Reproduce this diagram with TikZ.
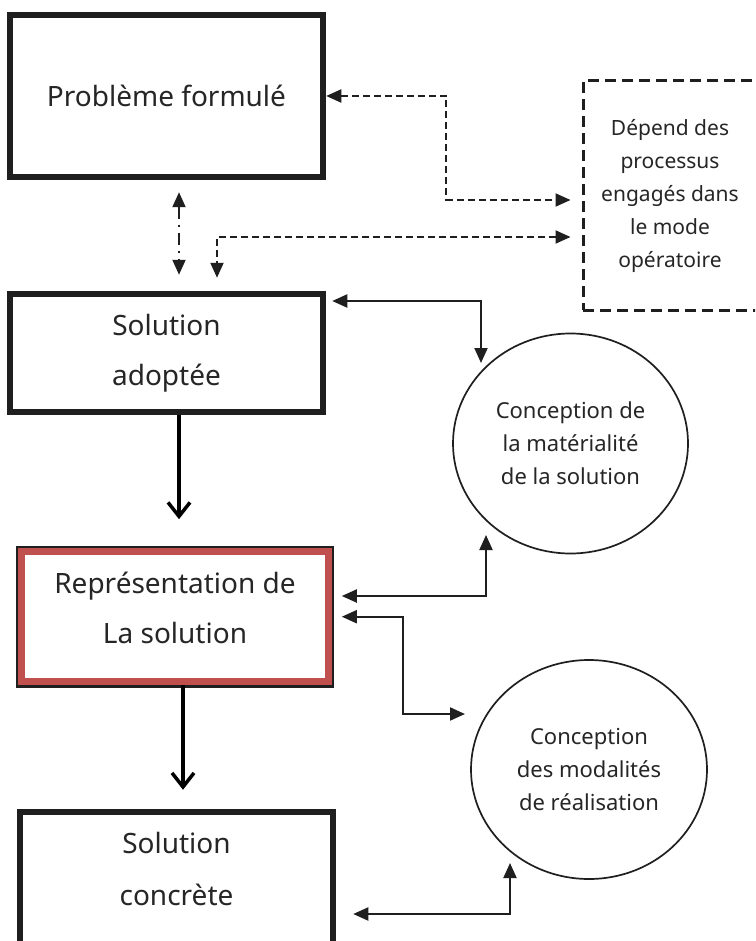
\documentclass[tikz,border=0pt]{standalone}
\usepackage{fontspec}
\setmainfont{Noto Sans}
\usetikzlibrary{arrows.meta,shapes.geometric,calc}
\definecolor{ink}{HTML}{1F1F1F}
\definecolor{txt}{HTML}{262626}
\definecolor{redbox}{HTML}{C0504D}
\begin{document}
\begin{tikzpicture}[x=1pt,y=-1pt,
  every node/.style={text=txt},
  >={Triangle[length=15pt,width=13pt]},
  bigbox/.style={rectangle, draw=ink, line width=6.5pt, fill=white, inner sep=0pt, align=center, font=\fontsize{28}{50}\selectfont},
  redb/.style={rectangle, draw=redbox, line width=7pt, fill=white, preaction={draw=ink, line width=12pt}, inner sep=0pt},
  bigtext/.style={align=center, inner sep=0pt, font=\fontsize{28}{50}\selectfont},
  ell/.style={ellipse, draw=ink, line width=1.7pt, fill=white, inner sep=0pt, align=center, font=\fontsize{22}{33}\selectfont},
  dbox/.style={rectangle, draw=ink, line width=3pt, dash pattern=on 11pt off 6pt, inner sep=0pt, align=center, font=\fontsize{21}{33}\selectfont},
  conn/.style={draw=ink, line width=2pt, <->},
  dconn/.style={draw=ink, line width=2pt, dash pattern=on 7pt off 4pt, <->},
  ddconn/.style={draw=ink, line width=2pt, dash pattern=on 12pt off 6pt on 2pt off 6pt, <->},
  thickarr/.style={draw=black, line width=3.5pt, arrows={-Straight Barb[length=14pt,width=22pt]}}
]
\clip (0,0) rectangle (755,941);
\fill[white] (0,0) rectangle (755,941);

% boxes
\node[bigbox, minimum width=313pt, minimum height=162pt] (pf) at (166.5,96) {Problème formulé};
\node[bigbox, minimum width=313pt, minimum height=118pt] (sa) at (166.5,353) {Solution\\adoptée};
\node[redb, minimum width=306.6pt, minimum height=130pt] (rep) at (175,616.7) {};
\node[bigtext] (reptext) at (175,607.5) {Représentation de\\La solution};
\node[bigbox, minimum width=313pt, minimum height=178pt] (conc) at (176.5,901) {};
\node[bigtext, font=\fontsize{28}{52}\selectfont] (conctext) at (176.5,869) {Solution\\concrète};

% dashed box
\node[dbox, minimum width=174pt, minimum height=229pt] (dep) at (670,195.5) {Dépend des\\processus\\engagés dans\\le mode\\opératoire};

% ellipses
\node[ell, minimum width=235pt, minimum height=220pt] (c1) at (570.5,443.5) {Conception de\\la matérialité\\de la solution};
\node[ell, minimum width=236pt, minimum height=219pt] (c2) at (589,769.5) {Conception\\des modalités\\de réalisation};

% dashed connectors
\draw[dconn, shorten >=11pt] (pf.east) -- ++(120,0) |- ([yshift=-4.5pt]dep.west);
\draw[dconn, shorten <=11pt, shorten >=13pt] ([yshift=-41.5pt]dep.west) -| ([xshift=50.5pt]sa.north);
\draw[ddconn, shorten <=12pt, shorten >=16pt] ([xshift=12.5pt]pf.south) -- ([xshift=12.5pt]pf.south |- sa.north);

% solid connectors
\draw[conn, shorten <=6pt] ([yshift=52pt]sa.east) -| ($(c1.center)+(-89.5,-80.5)$);
\draw[conn, shorten <=10pt] ([yshift=20.7pt]rep.east) -| ($(c1.center)+(-84.5,91.5)$);
\draw[conn, shorten <=10pt] (rep.east) -- ++(71,0) |- ($(c2.center)+(-124,-55.5)$);
\draw[conn, shorten <=17pt] ([yshift=-13pt]conc.east) -| ($(c2.center)+(-79,93.5)$);

% main flow
\draw[thickarr, shorten >=29pt] ([xshift=12.5pt]sa.south) -- ([xshift=12.5pt]sa.south |- rep.north);
\draw[thickarr, shorten >=19pt] ([xshift=8pt]rep.south) -- ([xshift=8pt]rep.south |- conc.north);
\end{tikzpicture}
\end{document}
